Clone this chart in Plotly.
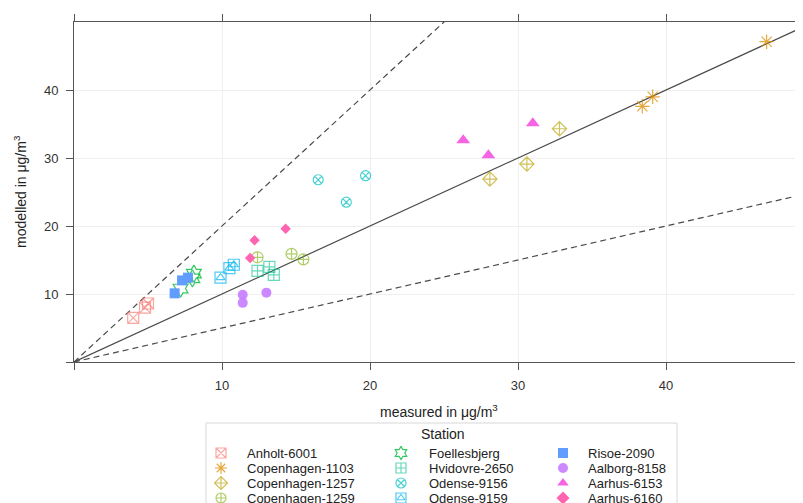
import plotly.graph_objects as go

# ---- data (measured vs modelled, µg/m3) ----
stations = ["Anholt-6001", "Copenhagen-1103", "Copenhagen-1257", "Copenhagen-1259",
            "Foellesbjerg", "Hvidovre-2650", "Odense-9156", "Odense-9159",
            "Risoe-2090", "Aalborg-8158", "Aarhus-6153", "Aarhus-6160"]

anholt_6001_measured = [4.0, 4.8, 5.0]
anholt_6001_modelled = [6.5, 8.0, 8.6]
copenhagen_1103_measured = [38.4, 39.1, 46.8]
copenhagen_1103_modelled = [37.6, 39.0, 47.1]
copenhagen_1257_measured = [28.1, 30.6, 32.8]
copenhagen_1257_modelled = [26.9, 29.1, 34.3]
copenhagen_1259_measured = [12.4, 14.7, 15.5]
copenhagen_1259_modelled = [15.4, 15.9, 15.1]
foellesbjerg_measured = [7.2, 8.0, 8.1]
foellesbjerg_modelled = [10.8, 12.3, 13.0]
hvidovre_2650_measured = [12.4, 13.2, 13.5]
hvidovre_2650_modelled = [13.4, 14.0, 12.8]
odense_9156_measured = [16.5, 18.4, 19.7]
odense_9156_modelled = [26.8, 23.5, 27.4]
odense_9159_measured = [9.9, 10.5, 10.8]
odense_9159_modelled = [12.4, 13.8, 14.3]
risoe_2090_measured = [6.8, 7.3, 7.7]
risoe_2090_modelled = [10.1, 12.0, 12.4]
aalborg_8158_measured = [11.4, 11.4, 13.0]
aalborg_8158_modelled = [9.9, 8.7, 10.2]
aarhus_6153_measured = [26.3, 28.0, 31.0]
aarhus_6153_modelled = [32.6, 30.4, 35.1]
aarhus_6160_measured = [11.9, 12.2, 14.3]
aarhus_6160_modelled = [15.3, 17.9, 19.6]

measured = [anholt_6001_measured, copenhagen_1103_measured, copenhagen_1257_measured,
            copenhagen_1259_measured, foellesbjerg_measured, hvidovre_2650_measured,
            odense_9156_measured, odense_9159_measured, risoe_2090_measured,
            aalborg_8158_measured, aarhus_6153_measured, aarhus_6160_measured]
modelled = [anholt_6001_modelled, copenhagen_1103_modelled, copenhagen_1257_modelled,
            copenhagen_1259_modelled, foellesbjerg_modelled, hvidovre_2650_modelled,
            odense_9156_modelled, odense_9159_modelled, risoe_2090_modelled,
            aalborg_8158_modelled, aarhus_6153_modelled, aarhus_6160_modelled]

# reference lines: 1:1 (solid), 2:1 and 1:2 (dashed)
ref_x = [0, 60]
ref_slopes = [1.0, 2.0, 0.5]
ref_dash = ["solid", "6px,4px", "6px,4px"]

tick_vals = [10, 20, 30, 40]
tick_text = ["10", "20", "30", "40"]

# ---- styles ----
colors = ["rgba(248,118,109,0.65)", "rgba(222,140,0,0.75)", "rgba(183,159,0,0.65)",
          "rgba(124,174,0,0.6)", "rgba(0,186,56,0.8)", "rgba(0,192,139,0.6)",
          "rgba(0,191,196,0.7)", "rgba(0,180,240,0.7)", "rgba(97,156,255,1)",
          "rgba(199,124,255,0.9)", "rgba(245,100,227,1)", "rgba(255,100,176,1)"]
symbols = ["square-x-open", "asterisk-open", "diamond-cross-open", "circle-cross-open",
           "hexagram-open", "square-cross-open", "circle-x-open", "square-open",
           "square", "circle", "triangle-up", "diamond"]
sizes = [11, 12, 11, 11, 13, 11, 10, 11, 10, 10, 12, 8]

W, H = 803, 503
OFF = 8                       # page body margin: figure starts 8px in
L, T, B = 74, 22, 362         # plot-area box in screen pixels
PX_PER_UNIT = 14.8
FONT = "Liberation Sans, Arial"

fig = go.Figure()

for s, d in zip(ref_slopes, ref_dash):
    fig.add_trace(go.Scatter(x=ref_x, y=[s * v for v in ref_x], mode="lines",
                             line=dict(color="#4a4a4a", width=1.2, dash=d),
                             showlegend=False, hoverinfo="skip", xaxis="x", yaxis="y"))

for name, mx, my, c, sym, sz in zip(stations, measured, modelled, colors, symbols, sizes):
    fig.add_trace(go.Scatter(x=mx, y=my, mode="markers", name=name, showlegend=False,
                             marker=dict(symbol=sym, color=c, size=sz,
                                         line=dict(color=c, width=1.2 if "open" in sym else 0)),
                             xaxis="x", yaxis="y"))
    if name == "Odense-9159":
        fig.add_trace(go.Scatter(x=mx, y=my, mode="markers", showlegend=False,
                                 marker=dict(symbol="triangle-up-open", color=c, size=8,
                                             line=dict(color=c, width=1.2)),
                                 xaxis="x", yaxis="y"))

# ---- manual legend (3 columns x 4 rows, column-major) ----
col_sym_x = [221, 401, 563]
col_txt_x = [245, 427, 586]
row_y0, row_dy = 453, 15
leg_x, leg_y = [], []
for i in range(len(stations)):
    col, row = divmod(i, 4)
    leg_x.append(col_sym_x[col])
    leg_y.append(row_y0 + row * row_dy)
    fig.add_annotation(x=col_txt_x[col], y=row_y0 + row * row_dy, xref="x2", yref="y2",
                       text=stations[i], showarrow=False, xanchor="left", yanchor="middle",
                       font=dict(family=FONT, size=13, color="#222"))
for i, (c, sym) in enumerate(zip(colors, symbols)):
    fig.add_trace(go.Scatter(x=[leg_x[i]], y=[leg_y[i]], mode="markers", showlegend=False,
                             hoverinfo="skip",
                             marker=dict(symbol=sym, color=c, size=10,
                                         line=dict(color=c, width=1.2 if "open" in sym else 0)),
                             xaxis="x2", yaxis="y2"))
    if stations[i] == "Odense-9159":
        fig.add_trace(go.Scatter(x=[leg_x[i]], y=[leg_y[i]], mode="markers", showlegend=False,
                                 hoverinfo="skip",
                                 marker=dict(symbol="triangle-up-open", color=c, size=7,
                                             line=dict(color=c, width=1.2)),
                                 xaxis="x2", yaxis="y2"))

fig.add_shape(type="rect", xref="x2", yref="y2", x0=206, x1=677, y0=423, y1=530,
              line=dict(color="#d8d8d8", width=1), fillcolor="rgba(0,0,0,0)")
fig.add_annotation(x=443, y=434, xref="x2", yref="y2", text="Station", showarrow=False,
                   xanchor="center", yanchor="middle",
                   font=dict(family=FONT, size=14, color="#222"))

# axis titles
fig.add_annotation(x=439, y=411, xref="x2", yref="y2", text="measured in μg/m<sup>3</sup>",
                   showarrow=False, xanchor="center", yanchor="middle",
                   font=dict(family=FONT, size=14, color="#222"))
fig.add_annotation(x=20, y=(T + B) / 2, xref="x2", yref="y2", text="modelled in μg/m<sup>3</sup>",
                   showarrow=False, textangle=-90, xanchor="center", yanchor="middle",
                   font=dict(family=FONT, size=14, color="#222"))

axis_common = dict(tickmode="array", tickvals=tick_vals, ticktext=tick_text,
                   ticks="outside", ticklen=7,
                   tickcolor="#555", tickwidth=1, showline=True, linecolor="#555", linewidth=1,
                   showgrid=True, gridcolor="#efefef", gridwidth=1, zeroline=False,
                   tickfont=dict(family=FONT, size=13, color="#333"),
                   minor=dict(tickmode="array", tickvals=[0], ticks="outside", ticklen=7,
                              tickcolor="#555", tickwidth=1, showgrid=False),
                   fixedrange=True)

fx0 = (L - OFF) / W
fy0 = (H - (B - OFF)) / H
fy1 = (H - (T - OFF)) / H
x_max = (W + OFF - L) / PX_PER_UNIT
y_max = 50

fig.update_layout(
    width=W, height=H, margin=dict(l=0, r=0, t=0, b=0),
    paper_bgcolor="white", plot_bgcolor="rgba(0,0,0,0)",
    xaxis=dict(domain=[fx0, 1], range=[0, x_max], mirror="allticks",
               ticklabelstandoff=4, anchor="y", **axis_common),
    yaxis=dict(domain=[fy0, fy1], range=[0, y_max], mirror=False,
               ticklabelstandoff=5, anchor="x", **axis_common),
    xaxis2=dict(domain=[0, 1], range=[OFF, W + OFF], visible=False, anchor="y2", fixedrange=True),
    yaxis2=dict(domain=[0, 1], range=[H + OFF, OFF], visible=False, anchor="x2", fixedrange=True),
    showlegend=False,
)

fig.write_html("out.html")
